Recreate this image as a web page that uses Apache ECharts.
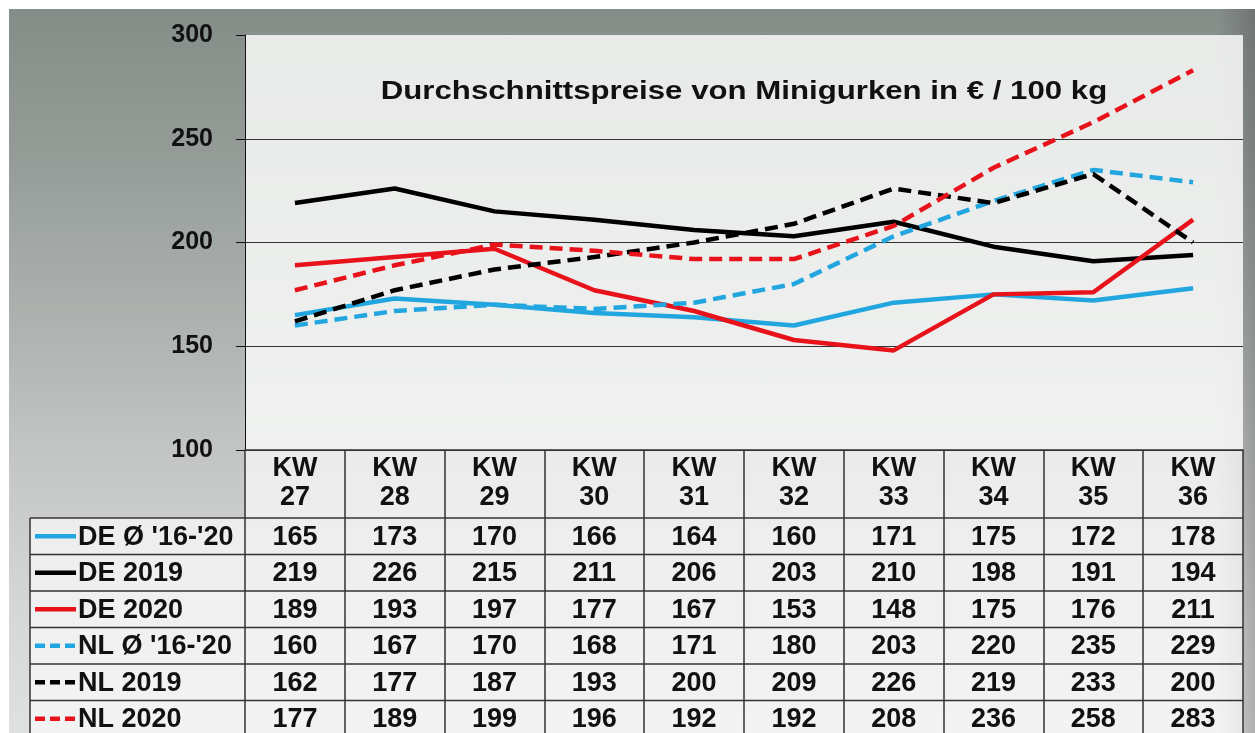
<!DOCTYPE html>
<html>
<head>
<meta charset="utf-8">
<script src="https://cdn.jsdelivr.net/npm/echarts@6/dist/echarts.min.js"></script>
<style>
  html, body { margin: 0; padding: 0; background: #fff; }
  #photo {
    position: absolute; left: 9px; top: 9px; width: 1246px; height: 724px;
    background:
      linear-gradient(90deg, rgba(0,0,0,0) 0%, rgba(0,0,0,0) 97%, rgba(60,60,60,0.3) 100%),
      linear-gradient(180deg, #858d89 0%, #959c98 20%, #acb1ae 42%, #c3c6c4 62%, #d5d7d6 82%, #dfe1e0 100%);
  }
  .cellbg { position: absolute; background: rgba(250,250,250,0.72); }
  #chart { position: absolute; left: 0; top: 0; width: 1255px; height: 733px; }
</style>
</head>
<body>
<div id="photo"></div>
<div class="cellbg" style="left:245px; top:450px; width:998px; height:68px;"></div>
<div class="cellbg" style="left:30px; top:518px; width:1213px; height:215px;"></div>
<div id="chart"></div>
<script>
const weeks = ['27', '28', '29', '30', '31', '32', '33', '34', '35', '36']
const deAvg = [165, 173, 170, 166, 164, 160, 171, 175, 172, 178]
const de2019 = [219, 226, 215, 211, 206, 203, 210, 198, 191, 194]
const de2020 = [189, 193, 197, 177, 167, 153, 148, 175, 176, 211]
const nlAvg = [160, 167, 170, 168, 171, 180, 203, 220, 235, 229]
const nl2019 = [162, 177, 187, 193, 200, 209, 226, 219, 233, 200]
const nl2020 = [177, 189, 199, 196, 192, 192, 208, 236, 258, 283]
const seriesNames = ["DE Ø '16-'20", 'DE 2019', 'DE 2020', "NL Ø '16-'20", 'NL 2019', 'NL 2020']
const yMin = 100, yMax = 300, yStep = 50
const titleText = 'Durchschnittspreise von Minigurken in € / 100 kg'

const FONT = '"Liberation Sans", Arial, sans-serif'
const BLUE = '#22a6e0', RED = '#e8121b', BLACK = '#000'
const DASH = [13, 7]

const rows = [
  { name: seriesNames[0], data: deAvg, color: BLUE, dashed: false },
  { name: seriesNames[1], data: de2019, color: BLACK, dashed: false },
  { name: seriesNames[2], data: de2020, color: RED, dashed: false },
  { name: seriesNames[3], data: nlAvg, color: BLUE, dashed: true },
  { name: seriesNames[4], data: nl2019, color: BLACK, dashed: true },
  { name: seriesNames[5], data: nl2020, color: RED, dashed: true },
]

const chart = echarts.init(document.getElementById('chart'), null, { renderer: 'canvas' })

chart.setOption({
  backgroundColor: 'transparent',
  animation: false,
  grid: {
    left: 245, right: 12, top: 35, bottom: 283,
    show: true, backgroundColor: 'rgba(246,247,246,0.88)', borderWidth: 0,
  },
  xAxis: {
    type: 'category',
    data: weeks.map(w => 'KW\n' + w),
    boundaryGap: true,
    axisLine: { show: true, lineStyle: { color: '#333', width: 1.5 } },
    axisTick: { show: true, length: 283, lineStyle: { color: '#333', width: 1.5 } },
    axisLabel: {
      margin: 4, fontSize: 27, fontWeight: 'bold', fontFamily: FONT,
      color: '#111', lineHeight: 29,
    },
  },
  yAxis: {
    type: 'value',
    min: yMin, max: yMax, interval: yStep,
    axisLine: { show: true, lineStyle: { color: '#111', width: 1 } },
    axisTick: { show: true, length: 9, lineStyle: { color: '#111' } },
    axisLabel: { margin: 32, fontSize: 25, fontWeight: 'bold', fontFamily: FONT, color: '#111' },
    splitLine: {
      show: true,
      // no line at the top of the plot
      lineStyle: { color: ['#333', '#333', '#333', '#333', 'rgba(0,0,0,0)'], width: 1 },
    },
  },
  series: rows.map(r => ({
    name: r.name,
    type: 'line',
    data: r.data,
    symbol: 'none',
    lineStyle: { color: r.color, width: 4.5, type: r.dashed ? DASH : 'solid' },
    itemStyle: { color: r.color },
  })),
})

// table under the plot, columns taken from the x axis
const headerBottom = 518
const rowH = 36.5
const tableLeft = 30, tableRight = 1243
const graphics = []

graphics.push({
  type: 'text', x: 744, y: 92, scaleX: 1.2,
  style: {
    text: titleText, font: 'bold 26px ' + FONT, fill: '#111',
    textAlign: 'center', textVerticalAlign: 'middle',
  },
})

for (let r = 0; r <= rows.length; r++) {
  const y = headerBottom + r * rowH
  graphics.push({
    type: 'line', shape: { x1: tableLeft, y1: y, x2: tableRight, y2: y },
    style: { stroke: '#333', lineWidth: 1.5 },
  })
}
graphics.push({
  type: 'line', shape: { x1: tableLeft, y1: headerBottom, x2: tableLeft, y2: 733 },
  style: { stroke: '#333', lineWidth: 1.5 },
})

rows.forEach((r, ri) => {
  const cy = headerBottom + ri * rowH + rowH / 2
  graphics.push({
    type: 'line', shape: { x1: 35, y1: cy, x2: 76, y2: cy },
    style: { stroke: r.color, lineWidth: 4.5, lineDash: r.dashed ? [10, 5] : null },
  })
  graphics.push({
    type: 'text', x: 78, y: cy + 1,
    style: {
      text: r.name, font: 'bold 27px ' + FONT, fill: '#111',
      textAlign: 'left', textVerticalAlign: 'middle',
    },
  })
  r.data.forEach((v, ci) => {
    const cx = chart.convertToPixel({ xAxisIndex: 0 }, ci)
    graphics.push({
      type: 'text', x: cx, y: cy + 1,
      style: {
        text: String(v), font: 'bold 27px ' + FONT, fill: '#111',
        textAlign: 'center', textVerticalAlign: 'middle',
      },
    })
  })
})

chart.setOption({ graphic: graphics })
</script>
</body>
</html>
